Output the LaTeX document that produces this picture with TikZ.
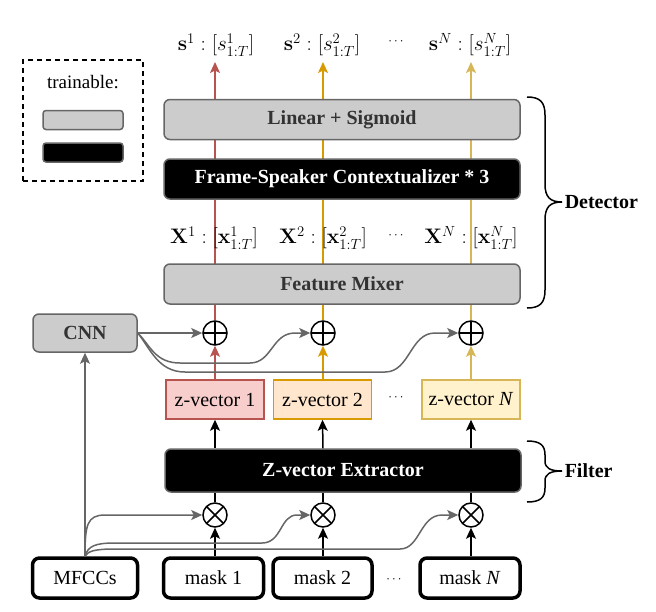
\RequirePackage{fix-cm}
\documentclass[tikz,border=0pt]{standalone}
\usepackage[no-math]{fontspec}
\setmainfont{Liberation Serif}
\usepackage{amsmath, amssymb}
\usetikzlibrary{arrows.meta,backgrounds}
\tikzset{every picture/.style={line width=1.5pt}}
\definecolor{boxgray}{HTML}{CCCCCC}
\definecolor{edgegray}{HTML}{666666}
\definecolor{txtgray}{HTML}{333333}
\definecolor{redfill}{HTML}{F8CECC}
\definecolor{redline}{HTML}{B85450}
\definecolor{orafill}{HTML}{FFE6CC}
\definecolor{oraline}{HTML}{D79B00}
\definecolor{yelfill}{HTML}{FFF2CC}
\definecolor{yelline}{HTML}{D6B656}
\tikzset{
  bigfont/.style={font=\fontsize{20}{23}\selectfont},
  mathfont/.style={font=\fontsize{21}{24}\selectfont},
  dotfont/.style={font=\fontsize{13}{15}\selectfont},
  graybox/.style={draw=edgegray, fill=boxgray, rounded corners=6pt, minimum width=356pt, minimum height=40pt, text=txtgray, font=\fontsize{20}{23}\selectfont\bfseries},
  blackbox/.style={graybox, fill=black, text=white},
  zbox/.style 2 args={draw=#1, fill=#2, minimum width=98pt, minimum height=39pt, bigfont},
  inbox/.style={draw, line width=3.5pt, rounded corners=7pt, minimum width=100pt, minimum height=40pt, bigfont},
  opnode/.style={circle, draw, minimum size=24pt, inner sep=0pt},
  oplus/.style={opnode, path picture={\draw (path picture bounding box.north) -- (path picture bounding box.south) (path picture bounding box.west) -- (path picture bounding box.east);}},
  otimes/.style={opnode, path picture={\draw (path picture bounding box.north west) -- (path picture bounding box.south east) (path picture bounding box.south west) -- (path picture bounding box.north east);}},
  farrow/.style={-{Stealth[length=11pt,width=10pt,inset=2.5pt]}},
  garrow/.style={farrow, draw=edgegray},
  stream/.style={farrow, line width=1.5pt, draw=#1, fill=#1},
  bracepath/.style={line width=1.5pt},
}

\begin{document}
\begin{tikzpicture}[x=1pt,y=1pt,yscale=-1]
\useasboundingbox (0,0) rectangle (656,611);

%Shape: Legend
\node[draw, dash pattern=on 5pt off 4pt, minimum width=120pt, minimum height=121pt] (legend) at (83,120.5) {};
% Text Node
\node[font=\fontsize{19}{22}\selectfont] (trn) at (83,82) {trainable:};
\node[graybox, minimum width=80pt, minimum height=19pt, rounded corners=3pt] (lgray) at (83,120) {};
\node[blackbox, minimum width=80pt, minimum height=19pt, rounded corners=3pt] (lblack) at (83,152.5) {};

%Shape: Detector boxes
\node[graybox] (lin) at (342,119.5) {Linear + Sigmoid};
\node[blackbox] (fsc) at (342,179) {Frame-Speaker Contextualizer * 3};
\node[graybox] (mix) at (342,284) {Feature Mixer};

%Shape: Filter box
\node[blackbox, minimum height=43pt] (zext) at (343,470.5) {Z-vector Extractor};

%Shape: z-vectors
\node[zbox={redline}{redfill}] (z1) at (215,399.5) {z-vector 1};
\node[zbox={oraline}{orafill}] (z2) at (322.5,399.5) {z-vector 2};
\node[zbox={yelline}{yelfill}] (zN) at (471,399.5) {z-vector \textit{N}};
\node[dotfont] (zdots) at (397,398) {$\cdots$};

%Shape: inputs
\node[inbox, minimum width=105pt] (mfcc) at (85,578) {MFCCs};
\node[inbox] (m1) at (213.5,578) {mask 1};
\node[inbox, minimum width=99pt] (m2) at (322.5,578) {mask 2};
\node[inbox] (mN) at (470,578) {mask \textit{N}};
\node[dotfont] (mdots) at (395,580) {$\cdots$};

%Shape: CNN
\node[graybox, minimum width=104pt, minimum height=38pt] (cnn) at (85,333) {CNN};

%Shape: operators
\node[oplus] (plus1) at (215,333) {};
\node[oplus] (plus2) at (323,333) {};
\node[oplus] (plusN) at (471,333) {};
\node[otimes] (times1) at (215,515) {};
\node[otimes] (times2) at (323,515) {};
\node[otimes] (timesN) at (471,515) {};

% Text Node
\node[mathfont] (s1) at (216,45) {$\mathbf{s}^1 : [s^1_{1:T}]$};
\node[mathfont] (s2) at (322,45) {$\mathbf{s}^2 : [s^2_{1:T}]$};
\node[mathfont] (sN) at (470,45) {$\mathbf{s}^N : [s^N_{1:T}]$};
\node[dotfont] (sdots) at (397,42) {$\cdots$};
% Text Node
\node[mathfont] (x1) at (214,238) {$\mathbf{X}^1 : [\mathbf{x}^1_{1:T}]$};
\node[mathfont] (x2) at (323,238) {$\mathbf{X}^2 : [\mathbf{x}^2_{1:T}]$};
\node[mathfont] (xN) at (471,238) {$\mathbf{X}^N : [\mathbf{x}^N_{1:T}]$};
\node[dotfont] (xdots) at (397,236) {$\cdots$};

\coordinate (t1) at (215,62);
\coordinate (t2) at (323,62);
\coordinate (tN) at (471,62);

%Straight Lines: speaker streams
\begin{scope}[on background layer]
\draw[stream=redline] (z1.north) -- (plus1.south);
\draw[stream=redline] (plus1.north) -- (t1);
\draw[stream=oraline] (plus2 |- z2.north) -- (plus2.south);
\draw[stream=oraline] (plus2.north) -- (t2);
\draw[stream=yelline] (zN.north) -- (plusN.south);
\draw[stream=yelline] (plusN.north) -- (tN);
\end{scope}

%Straight Lines: filter
\draw[farrow] (z1 |- zext.north) -- (z1.south);
\draw[farrow] (plus2 |- zext.north) -- (z2.south);
\draw[farrow] (zN |- zext.north) -- (zN.south);
\draw (times1.north) -- (times1 |- zext.south);
\draw (times2.north) -- (times2 |- zext.south);
\draw (timesN.north) -- (timesN |- zext.south);
\draw[farrow] (times1 |- m1.north) -- (times1.south);
\draw[farrow] (times2 |- m2.north) -- (times2.south);
\draw[farrow] (timesN |- mN.north) -- (timesN.south);

%Curve Lines: CNN
\draw[garrow] (cnn.east) -- (plus1.west);
\draw[garrow] (cnn.east) .. controls (150,345) and (155,363) .. (180,363) -- (250,363) .. controls (272,363) and (272,333) .. (295,333) -- (plus2.west);
\draw[garrow] (cnn.east) .. controls (150,348) and (158,372) .. (185,372) -- (385,372) .. controls (410,372) and (410,333) .. (435,333) -- (plusN.west);

%Curve Lines: MFCCs
\draw[garrow] (mfcc.north) -- (cnn.south);
\draw[garrow] (mfcc.north) .. controls (85,525) and (87,515) .. (105,515) -- (times1.west);
\draw[garrow] (mfcc.north) .. controls (88,546) and (95,543) .. (115,543) -- (262,543) .. controls (282,543) and (280,515) .. (297,515) -- (times2.west);
\draw[garrow] (mfcc.north) .. controls (88,551) and (95,549) .. (115,549) -- (400,549) .. controls (420,549) and (420,515) .. (442,515) -- (timesN.west);

%Shape: braces
\draw[bracepath] (527,97) .. controls (540,97) and (545,102) .. (545,115) -- (545,184) .. controls (545,197) and (550,202) .. (562,202) .. controls (550,202) and (545,207) .. (545,220) -- (545,290) .. controls (545,303) and (540,308) .. (527,308);
\draw[bracepath] (527,441) .. controls (540,441) and (545,445) .. (545,455) -- (545,461) .. controls (545,468) and (550,471) .. (562,471) .. controls (550,471) and (545,474) .. (545,481) -- (545,488) .. controls (545,498) and (540,502) .. (527,502);
% Text Node
\node[font=\fontsize{20}{23}\selectfont\bfseries, anchor=west, inner sep=1pt] (det) at (563,202) {Detector};
\node[font=\fontsize{20}{23}\selectfont\bfseries, anchor=west, inner sep=1pt] (flt) at (563,471) {Filter};

\end{tikzpicture}
\end{document}
